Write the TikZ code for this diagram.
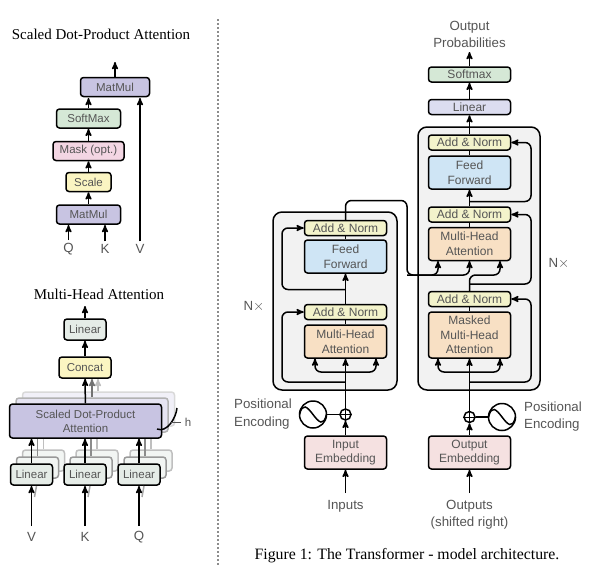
\documentclass[tikz,border=0pt]{standalone}
\usepackage{fontspec}
\setmainfont{Liberation Serif}
\newfontfamily\boxfont{Liberation Sans}
\usetikzlibrary{arrows}
\usetikzlibrary{arrows.meta}
\usetikzlibrary{positioning}
\definecolor{labelgray}{HTML}{555555}
\definecolor{blockgray}{HTML}{F2F2F2}
\definecolor{normyellow}{HTML}{F3F3CB}
\definecolor{feedblue}{HTML}{CFE5F5}
\definecolor{attnorange}{HTML}{F8E0C4}
\definecolor{embedpink}{HTML}{F5E1E1}
\definecolor{linearlilac}{HTML}{DCDDF0}
\definecolor{softgreen}{HTML}{D5E8D6}
\definecolor{matpurple}{HTML}{C8C4E2}
\definecolor{maskpink}{HTML}{F3D6E3}
\definecolor{scaleyellow}{HTML}{FBF5C2}
\definecolor{linearpale}{HTML}{E5ECE7}
\begin{document}
\begin{tikzpicture}[x=1pt, y=-1pt, >=stealth', line width=1.5pt,
	lbl/.style={text=labelgray, font=\boxfont\fontsize{13.3}{17.5}\selectfont, align=center, inner sep=0},
	ttl/.style={font=\fontsize{15}{17}\selectfont, inner sep=0},
	blk/.style={rectangle, rounded corners=3pt, draw, text=labelgray, align=center, inner sep=0,
				font=\boxfont\fontsize{12}{14.6}\selectfont},
	sblk/.style={blk, font=\boxfont\fontsize{11.5}{14}\selectfont},
	wide/.style={blk, minimum width=82pt},
	norm/.style={wide, fill=normyellow, minimum height=15pt},
	feed/.style={wide, fill=feedblue, minimum height=33pt},
	attn/.style={wide, fill=attnorange, minimum height=33pt},
	embd/.style={wide, fill=embedpink, minimum height=33pt},
	block/.style={rectangle, rounded corners=9pt, draw, fill=blockgray},
	ghost/.style={rectangle, rounded corners=3pt, draw=black!25, fill=linearpale!50},
	res/.style={->, rounded corners=6pt},
	plus/.style={circle, draw, minimum size=11pt, inner sep=0},
	wave/.style={circle, draw, minimum size=27pt, inner sep=0},
]
\useasboundingbox (0,0) rectangle (599,574);
% left column, top picture
\node [ttl] (T1) at (101,34) {Scaled Dot-Product Attention};
\node [sblk, fill=matpurple, minimum width=69pt, minimum height=19pt] (M2) at (115,87) {MatMul};
\node [sblk, fill=softgreen, minimum width=64pt, minimum height=19pt] (S) at (88.5,118.5) {SoftMax};
\node [sblk, fill=maskpink, minimum width=71pt, minimum height=19pt] (K) at (88.5,151) {Mask (opt.)};
\node [sblk, fill=scaleyellow, minimum width=45pt, minimum height=19pt] (C) at (88.5,182) {Scale};
\node [sblk, fill=matpurple, minimum width=64pt, minimum height=19pt] (M1) at (88.5,214.5) {MatMul};
\node [lbl, outer sep=3pt] (Q1) at (68.5,249) {Q};
\node [lbl, outer sep=3pt] (K1) at (105,249) {K};
\node [lbl, outer sep=3pt] (V1) at (140,249) {V};
\coordinate (O1) at (115,62);
\coordinate (M2V) at (140,98);
\coordinate (M2S) at (88.5,98);
\coordinate (M1Q) at (68.5,225);
\coordinate (M1K) at (105,225);
\draw [->] (M2) -- (O1);
\draw [->] (S) -- (M2S);
\draw [->] (K) -- (S);
\draw [->] (C) -- (K);
\draw [->] (M1) -- (C);
\draw [->] (Q1) -- (M1Q);
\draw [->] (K1) -- (M1K);
\draw [->] (V1) -- (M2V);
% left column, bottom picture
\node [ttl] (T2) at (99,294) {Multi-Head Attention};
\node [sblk, fill=linearpale, minimum width=42pt, minimum height=21pt] (L0) at (85,329.5) {Linear};
\node [sblk, fill=scaleyellow, minimum width=52pt, minimum height=21pt] (CC) at (85,367.5) {Concat};
\coordinate (O2) at (85,306);
\coordinate (CC1) at (92,379);
\coordinate (CC2) at (98,379);
\node [ghost, fill=matpurple!25, draw=black!15, minimum width=152pt, minimum height=34pt] (P2) at (98.5,409) {};
\node [ghost, fill=matpurple!45, draw=black!30, minimum width=152pt, minimum height=34pt] (P1) at (92,415) {};
\draw [->, black!25] (P2.north -| CC2) -- (CC2);
\draw [->, black!55] (P1.north -| CC1) -- (CC1);
\node [sblk, fill=matpurple, minimum width=152pt, minimum height=34pt] (P) at (85.5,421) {Scaled Dot-Product\\Attention};
\foreach \n/\x/\t in {a/31.5/V, b/85/K, c/139/Q} {
	\node [ghost, minimum width=42pt, minimum height=21pt] (L\n2) at (\x+12,460.5) {};
	\node [ghost, draw=black!40, minimum width=42pt, minimum height=21pt] (L\n1) at (\x+6,467.5) {};
	\draw [black!25] (L\n2.north) -- (L\n2.north |- P.south);
	\draw [black!45] (L\n1.north) -- (L\n1.north |- P.south);
	\node [sblk, fill=linearpale, minimum width=42pt, minimum height=21pt] (L\n) at (\x,474.5) {Linear};
	\node [lbl] (I\n) at (\x,537) {\t};
	\coordinate (Y\n) at (\x,526);
	\coordinate (Z\n) at (\x,486);
	\coordinate (G\n) at (\x+3,497);
	\draw [black!35] (G\n) -- ([xshift=5pt]Z\n);
	\draw [->] (Y\n) -- (Z\n);
	\draw [->] (L\n) -- (L\n |- P.south);
}
\draw [->] (P) -- (CC);
\draw [->] (CC) -- (L0);
\draw [->] (L0) -- (O2);
\node [lbl, font=\boxfont\fontsize{11.5}{12}\selectfont] (H) at (188,422) {h};
\coordinate (B1) at (177,408);
\coordinate (B2) at (157,429);
\draw (B1) .. controls (176,418) and (167,433) .. (B2);
\draw [line width=0.8pt, labelgray] (H.west) ++(-3,0) -- ++(-10,0);
% divider
\coordinate (D1) at (218,19);
\coordinate (D2) at (218,565);
\draw [black!45, line width=1.2pt, dash pattern=on 2pt off 2pt] (D1) -- (D2);
% encoder
\node [block, minimum width=124pt, minimum height=178pt] (EB) at (335,301) {};
\node [norm] (EN2) at (345.5,228) {Add \& Norm};
\node [feed] (EF) at (345.5,256.5) {Feed\\Forward};
\node [norm] (EN1) at (345.5,312) {Add \& Norm};
\node [attn] (EA) at (345.5,341.5) {Multi-Head\\Attention};
\node [embd] (EE) at (345.5,452.5) {Input\\Embedding};
\node [plus] (EP) at (345.5,414.5) {};
\node [wave] (EW) at (313,414.5) {};
\node [lbl, align=left] (EPL) at (263,414) {Positional\\Encoding};
\node [lbl] (EI) at (345.5,506) {Inputs};
\node [lbl] (NL) at (254,307) {N$\times$};
\coordinate (EIT) at (345.5,493);
\coordinate (EB1) at (345.5,382);
\coordinate (EB2) at (345.5,372);
\coordinate (EB3) at (345.5,289.5);
\coordinate (EAL) at (315,358.5);
\coordinate (EAR) at (376,358.5);
\coordinate (EO1) at (407,200.5);
\coordinate (EO2) at (407,275);
\draw [->] (EIT) -- (EE);
\draw [->] (EE) -- (EP);
\draw (EP) -- (EW);
\draw (EA) -- (EN1);
\draw (EF) -- (EN2);
\draw [->] (EP) -- (EA);
\draw [->] (EN1) -- (EF);
\draw [res] (EB1) -| (282,312) -- (EN1.west);
\draw [res] (EB3) -| (282,228) -- (EN2.west);
\draw [res] (EB2) -| (EAL);
\draw [res] (EB2) -| (EAR);
\draw [line width=0.8pt] (EP.north) -- (EP.south);
\draw [line width=0.8pt] (EP.west) -- (EP.east);
\draw ([xshift=-13.5pt]EW.center) .. controls +(3,-12) and +(-6,-8) .. (EW.center) .. controls +(6,8) and +(-3,12) .. ([xshift=13.5pt]EW.center);
% decoder
\node [block, minimum width=122pt, minimum height=263pt] (DB) at (479,258.5) {};
\node [norm] (DN3) at (469.5,142.5) {Add \& Norm};
\node [feed] (DF) at (469.5,172.5) {Feed\\Forward};
\node [norm] (DN2) at (469.5,214.5) {Add \& Norm};
\node [attn] (DA) at (469.5,244) {Multi-Head\\Attention};
\node [norm] (DN1) at (469.5,299) {Add \& Norm};
\node [attn, minimum height=46pt] (DM) at (469.5,335) {Masked\\Multi-Head\\Attention};
\node [embd] (DE) at (469.5,452.5) {Output\\Embedding};
\node [plus] (DP) at (469.5,417) {};
\node [wave] (DW) at (502,417) {};
\node [lbl, align=left] (DPL) at (553,416.5) {Positional\\Encoding};
\node [lbl] (DO) at (469.5,514.5) {Outputs\\(shifted right)};
\node [lbl] (NR) at (559,264) {N$\times$};
\node [wide, fill=linearlilac, minimum height=15pt] (DL) at (469.5,107) {Linear};
\node [wide, fill=softgreen, minimum height=15pt] (DS) at (469.5,74.5) {Softmax};
\node [lbl] (DT) at (469.5,34.5) {Output\\Probabilities};
\coordinate (DIT) at (469.5,493);
\coordinate (DB1) at (469.5,382);
\coordinate (DB2) at (469.5,372);
\coordinate (DB3) at (469.5,284);
\coordinate (DB4) at (469.5,275);
\coordinate (DB5) at (469.5,201.5);
\coordinate (DML) at (438,358.5);
\coordinate (DMR) at (500,358.5);
\coordinate (DAL) at (438,261);
\coordinate (DAC) at (469.5,261);
\coordinate (DAR) at (500,261);
\coordinate (DTB) at (469.5,52);
\draw [->] (DIT) -- (DE);
\draw [->] (DE) -- (DP);
\draw (DP) -- (DW);
\draw (DM) -- (DN1);
\draw (DA) -- (DN2);
\draw (DF) -- (DN3);
\draw [->] (DP) -- (DM);
\draw [->] (DN2) -- (DF);
\draw [->] (DN3) -- (DL);
\draw [->] (DL) -- (DS);
\draw [->] (DS) -- (DTB);
\draw [res] (DB1) -| (531,299) -- (DN1.east);
\draw [res] (DB3) -| (531,214.5) -- (DN2.east);
\draw [res] (DB5) -| (531,142.5) -- (DN3.east);
\draw [res] (DB2) -| (DML);
\draw [res] (DB2) -| (DMR);
\draw [res] (DN1.north) -- (DB4) -| (DAR);
\draw [res] (EN2.north) |- (EO1) -- (EO2) -| (DAC);
\draw [res] (EO2) -| (DAL);
\draw [line width=0.8pt] (DP.north) -- (DP.south);
\draw [line width=0.8pt] (DP.west) -- (DP.east);
\draw ([xshift=-13.5pt]DW.center) .. controls +(3,-12) and +(-6,-8) .. (DW.center) .. controls +(6,8) and +(-3,12) .. ([xshift=13.5pt]DW.center);
\node [ttl, font=\fontsize{15.8}{18}\selectfont] (T3) at (407,556) {Figure 1: The Transformer - model architecture.};
\end{tikzpicture}
\end{document}
